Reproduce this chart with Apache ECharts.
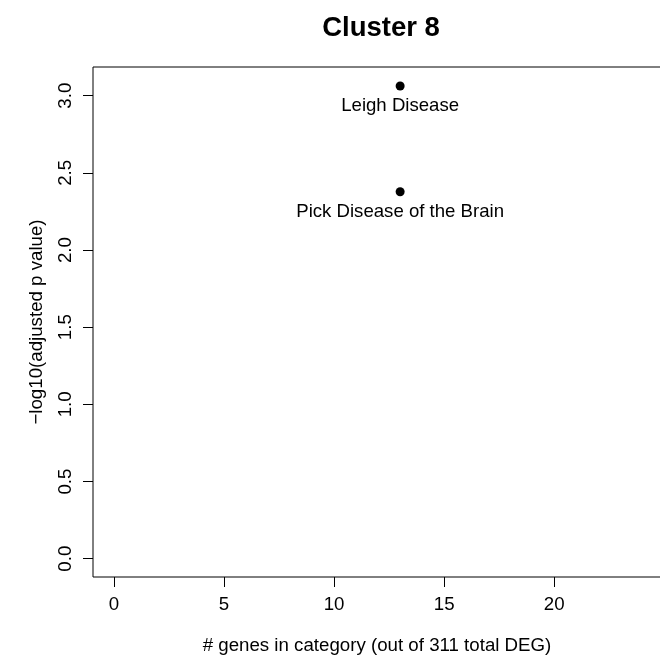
<!DOCTYPE html>
<html>
<head>
<meta charset="utf-8">
<script src="https://cdn.jsdelivr.net/npm/echarts@6/dist/echarts.min.js"></script>
<style>
  html, body { margin: 0; padding: 0; background: #fff; }
  #chart { width: 660px; height: 656px; }
</style>
</head>
<body>
<div id="chart"></div>
<script>
// Enriched disease terms for cluster 8
const terms = ['Leigh Disease', 'Pick Disease of the Brain'];
const geneCounts = [13, 13];
const negLog10P = [3.063, 2.378];

// Axis tick positions
const xTicks = [0, 5, 10, 15, 20];
const yTicks = [0, 0.5, 1, 1.5, 2, 2.5, 3];

const FONT = 'Liberation Sans, Arial, Helvetica, sans-serif';

const chart = echarts.init(document.getElementById('chart'), null, { renderer: 'canvas' });

chart.setOption({
  backgroundColor: '#ffffff',
  animation: false,
  title: {
    text: 'Cluster 8',
    left: 376,
    textAlign: 'center',
    top: 9,
    textStyle: { fontFamily: FONT, fontWeight: 'bold', fontSize: 27.5, color: '#000' }
  },
  grid: {
    left: 93, top: 67, width: 568, height: 510,
    outerBoundsMode: 'none',
    containLabel: false,
    show: true, borderColor: '#000', borderWidth: 1, backgroundColor: 'transparent'
  },
  xAxis: {
    type: 'value',
    min: -0.952, max: 24.85,
    name: '# genes in category (out of 311 total DEG)',
    nameLocation: 'middle',
    nameGap: 59,
    nameTextStyle: { fontFamily: FONT, fontSize: 18.7, color: '#000' },
    axisLine: { show: false, onZero: false },
    splitLine: { show: false },
    axisTick: { show: true, inside: false, length: 10, customValues: xTicks, lineStyle: { color: '#000', width: 1 } },
    axisLabel: { show: true, customValues: xTicks, margin: 18, fontFamily: FONT, fontSize: 18.7, color: '#000' }
  },
  yAxis: {
    type: 'value',
    min: -0.1186, max: 3.186,
    name: '\u2212log10(adjusted p value)',
    nameLocation: 'middle',
    nameRotate: 90,
    nameGap: 47,
    nameTextStyle: { fontFamily: FONT, fontSize: 18.7, color: '#000' },
    axisLine: { show: false, onZero: false },
    splitLine: { show: false },
    axisTick: { show: true, inside: false, length: 10, customValues: yTicks, lineStyle: { color: '#000', width: 1 } },
    axisLabel: {
      show: true, customValues: yTicks, rotate: 90, margin: 18,
      fontFamily: FONT, fontSize: 18.7, color: '#000',
      formatter: v => v.toFixed(1)
    }
  },
  series: [{
    type: 'scatter',
    symbol: 'circle',
    symbolSize: 9,
    itemStyle: { color: '#000', opacity: 1 },
    data: terms.map((t, i) => ({ name: t, value: [geneCounts[i], negLog10P[i]] })),
    label: {
      show: true,
      position: 'bottom',
      distance: 6,
      formatter: '{b}',
      fontFamily: FONT,
      fontSize: 18.6,
      color: '#000'
    }
  }]
});
</script>
</body>
</html>
